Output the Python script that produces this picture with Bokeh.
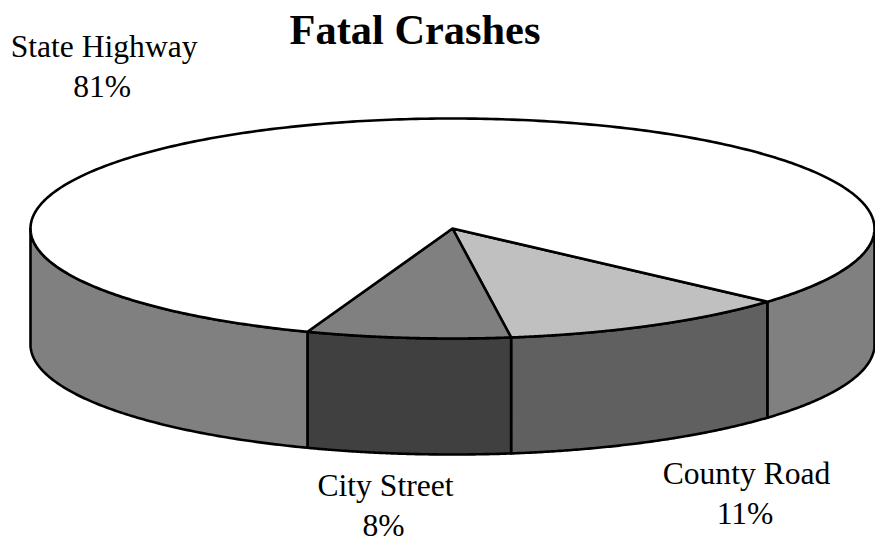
import numpy as np
from bokeh.plotting import figure
from bokeh.models import Range1d
from bokeh.core.properties import value
from bokeh.embed import file_html
from bokeh.resources import INLINE

# Data
categories = ["County Road", "City Street", "State Highway"]
shares = [11.2, 7.8, 81.0]
share_labels = ["11%", "8%", "81%"]
top_colors = ["#C0C0C0", "#808080", "#FFFFFF"]
side_colors = ["#606060", "#404040", "#808080"]
title_text = "Fatal Crashes"

# Geometry of the projected pie, in page pixels
CX, CY, RX, RY, DEPTH = 452.0, 228.0, 422.0, 110.0, 116.0
START_DEG = -41.7
LW = 2.6
FONT = "Liberation Serif"


def ell(t_deg, dy=0.0):
    t = np.radians(t_deg)
    return CX + RX * np.cos(t), CY - RY * np.sin(t) + dy


p = figure(width=875, height=542, x_range=Range1d(0, 875), y_range=Range1d(542, 0),
           output_backend="svg", toolbar_location=None, min_border=0)
p.axis.visible = False
p.grid.visible = False
p.outline_line_color = None
p.background_fill_color = "white"
p.border_fill_color = "white"

# Angular extents: clockwise from the start angle
edges = START_DEG - np.concatenate([[0], np.cumsum(shares)]) * 360.0 / sum(shares)
spans = list(zip(edges[:-1], edges[1:]))

# Sides: only the portions on the front half of the ellipse
front_bands = [(0.0, -180.0), (-360.0, -540.0)]
for (a, b), col in zip(spans, side_colors):
    for f0, f1 in front_bands:
        hi, lo = min(a, f0), max(b, f1)
        if hi <= lo:
            continue
        ts = np.linspace(hi, lo, 120)
        xt, yt = ell(ts)
        xb, yb = ell(ts[::-1], DEPTH)
        p.patch(np.r_[xt, xb], np.r_[yt, yb], fill_color=col, line_color="black",
                line_width=LW, line_join="round")

# Top faces
for (a, b), col in zip(spans, top_colors):
    ts = np.linspace(a, b, 400)
    xt, yt = ell(ts)
    p.patch(np.r_[CX, xt], np.r_[CY, yt], fill_color=col, line_color="black",
            line_width=LW, line_join="round")

def put(x, y, txt, size, style="normal"):
    p.text([x], [y], text=[txt], text_font=value(FONT), text_font_size=size,
           text_font_style=style, text_align="center", text_baseline="alphabetic",
           text_color="black")

put(414.5, 29, title_text, "42.4px", "bold")
label_pos = [(746, 472.5, 744.5, 512.5), (385, 484.5, 383, 524.5), (103.6, 45.5, 101.7, 85.5)]
for cat, lab, (x1, y1, x2, y2) in zip(categories, share_labels, label_pos):
    put(x1, y1, cat, "31.6px")
    put(x2, y2, lab, "31.6px")

open("out.html", "w").write(file_html(p, INLINE))
